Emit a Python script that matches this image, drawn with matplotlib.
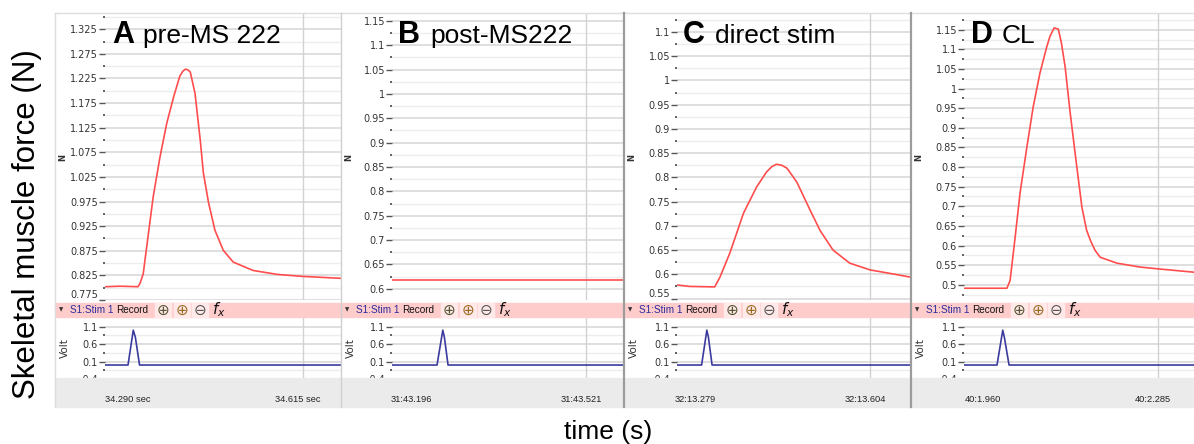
import numpy as np
import matplotlib
matplotlib.use("Agg")
import matplotlib.pyplot as plt
from matplotlib.patches import Rectangle
from matplotlib.lines import Line2D
from matplotlib.ticker import FixedLocator, FuncFormatter

W, H = 1194, 444

letters = ['A', 'B', 'C', 'D']
titles = ['pre-MS 222', 'post-MS222', 'direct stim', 'CL']
time_labels = [('34.290 sec', '34.615 sec'), ('31:43.196', '31:43.521'),
               ('32:13.279', '32:13.604'), ('40:1.960', '40:2.285')]
time_marks = [0.0, 0.325]

# force traces (N), time in s from the first time mark of each panel
t_a = [-0.044, -0.015, 0.019, 0.023, 0.029, 0.039, 0.048, 0.061, 0.074, 0.087, 0.099, 0.105,
       0.110, 0.115, 0.119, 0.128, 0.138, 0.144, 0.154, 0.166, 0.182, 0.201, 0.239,
       0.285, 0.333, 0.407]
f_a = [0.802, 0.803, 0.802, 0.809, 0.828, 0.910, 0.984, 1.065, 1.134, 1.187, 1.230, 1.240,
       1.244, 1.242, 1.238, 1.195, 1.100, 1.033, 0.972, 0.917, 0.876, 0.852, 0.835,
       0.827, 0.823, 0.819]

t_b = [-0.036, 0.407]
f_b = [0.619, 0.619]

t_c = [-0.034, -0.010, 0.038, 0.048, 0.067, 0.093, 0.118, 0.137, 0.147, 0.156, 0.166, 0.176,
       0.195, 0.220, 0.239, 0.264, 0.296, 0.335, 0.367, 0.413]
f_c = [0.578, 0.575, 0.574, 0.594, 0.644, 0.726, 0.780, 0.811, 0.822, 0.827, 0.825, 0.819,
       0.790, 0.733, 0.691, 0.650, 0.623, 0.609, 0.603, 0.594]

t_d = [-0.036, 0.046, 0.052, 0.061, 0.071, 0.084, 0.096, 0.109, 0.122, 0.128, 0.136, 0.144,
       0.150, 0.157, 0.166, 0.176, 0.189, 0.198, 0.205, 0.214, 0.224, 0.256, 0.300, 0.338,
       0.402]
f_d = [0.491, 0.491, 0.511, 0.614, 0.734, 0.851, 0.953, 1.040, 1.107, 1.133, 1.155, 1.152,
       1.116, 1.056, 0.946, 0.836, 0.698, 0.639, 0.614, 0.588, 0.570, 0.555, 0.545, 0.540,
       0.532]

# stimulus pulses (Volt)
stim_t = [[-0.044, 0.000, 0.010, 0.014, 0.022, 0.407],
          [-0.036, 0.050, 0.061, 0.064, 0.071, 0.407],
          [-0.034, 0.013, 0.023, 0.026, 0.033, 0.413],
          [-0.036, 0.027, 0.038, 0.041, 0.050, 0.403]]
stim_v = [0, 0, 1.0, 0.8, 0, 0]

force_t = [t_a, t_b, t_c, t_d]
force_f = [f_a, f_b, f_c, f_d]
ylims = [(0.775, 1.358), (0.577, 1.166), (0.547, 1.139), (0.461, 1.193)]
ytick_lo = [0.775, 0.6, 0.55, 0.5]
ytick_hi = [1.325, 1.15, 1.1, 1.15]
xlims = [(-0.044, 0.407), (-0.036, 0.407), (-0.034, 0.413), (-0.036, 0.403)]
grid_t = 0.335
volt_ticks = [-0.4, 0.1, 0.6, 1.1]

# pixel layout: panel left, axis left, panel right
panels = [(55, 105, 341), (341, 392, 624), (624, 677, 911), (911, 964, 1194)]
letter_x = [112, 398, 683, 971]
title_x = [143, 430, 715, 1002]

fig = plt.figure(figsize=(W / 100, H / 100), dpi=100)


def ax_px(x0, y0, x1, y1):
    return fig.add_axes([x0 / W, 1 - y1 / H, (x1 - x0) / W, (y1 - y0) / H])


def ftxt(x, y, s, **kw):
    return fig.text(x / W, 1 - y / H, s, **kw)


def vline(x, y0, y1, color, lw):
    fig.add_artist(Line2D([x / W, x / W], [1 - y0 / H, 1 - y1 / H], color=color, lw=lw,
                          transform=fig.transFigure, zorder=3))


fmt = FuncFormatter(lambda v, p: f'{v:g}')


def style(ax, major, minor, xlim, ylim):
    ax.set_xlim(*xlim)
    ax.set_ylim(*ylim)
    for s in ax.spines.values():
        s.set_visible(False)
    ax.set_xticks([])
    ax.yaxis.set_major_locator(FixedLocator(major))
    ax.yaxis.set_minor_locator(FixedLocator(minor))
    ax.yaxis.set_major_formatter(fmt)
    ax.tick_params(axis='y', which='major', direction='out', length=4, width=1,
                   color='#555555', pad=1, labelsize=7, labelcolor='#333333')
    ax.tick_params(axis='y', which='minor', direction='out', length=1.3, width=1.3,
                   color='#555555')
    ax.grid(which='major', axis='y', color='#d6d6d6', lw=1.1)
    ax.grid(which='minor', axis='y', color='#ededed', lw=1.0)
    ax.axvline(grid_t, color='#d2d2d2', lw=1)
    ax.set_axisbelow(True)


for i, (pl, axl, pr) in enumerate(panels):
    # force trace
    ax = ax_px(axl, 13, pr, 300)
    major = np.round(np.arange(ytick_lo[i], ytick_hi[i] + 1e-6, 0.05), 3)
    minor = np.round(np.arange(ytick_lo[i] - 0.025, ylims[i][1], 0.05), 4)
    minor = [m for m in minor if ylims[i][0] <= m <= ylims[i][1]]
    style(ax, major, minor, xlims[i], ylims[i])
    ax.plot(force_t[i], force_f[i], color='#ff4d4d', lw=1.2, solid_joinstyle='round')
    for lab in ax.get_yticklabels():
        if abs(lab.get_position()[1] - ylims[i][0]) < 0.004:
            lab.set_va('bottom')
    ftxt(pl + 8, 157, 'N', rotation=90, ha='center', va='center', fontsize=6,
         weight='bold', color='#333333')

    # stimulus trace
    ax2 = ax_px(axl, 318, pr, 380)
    vminor = [-0.15, 0.35, 0.85]
    style(ax2, volt_ticks, vminor, xlims[i], (-0.43, 1.35))
    ax2.plot(stim_t[i], stim_v, color='#3b3b9e', lw=1.2)
    ftxt(pl + 10, 348, 'Volt', rotation=90, ha='center', va='center', fontsize=7.5,
         color='#333333')

    # titles
    ftxt(letter_x[i], 43, letters[i], fontsize=22, weight='bold', family='Liberation Sans',
         va='baseline', ha='left')
    ftxt(title_x[i], 43, titles[i], fontsize=19, family='Liberation Sans',
         va='baseline', ha='left')

    # toolbar contents
    ftxt(pl + 6, 310, '\u25bc', fontsize=4, color='#333333', ha='center', va='center')
    ftxt(pl + 15, 310, 'S1:Stim 1', fontsize=7.2, color='#2a2a9a', family='Liberation Sans',
         ha='left', va='center', zorder=4)
    ftxt(pl + 61, 310, 'Record', fontsize=7.2, color='#111111', family='Liberation Sans',
         ha='left', va='center', zorder=4)
    for cx, sym, col in [(108, '\u2295', '#555533'), (127, '\u2295', '#9a6a20'),
                         (145, '\u2296', '#555555')]:
        fig.add_artist(Rectangle(((pl + cx - 8) / W, 1 - 317 / H), 16 / W, 14 / H,
                                 transform=fig.transFigure, color='#ffe9e9', zorder=2))
        ftxt(pl + cx, 310, sym, fontsize=11, color=col, ha='center', va='center', zorder=4)
    ftxt(pl + 164, 310, '$f_x$', fontsize=11, color='#111111', ha='center', va='center',
         zorder=4)

# pink toolbar and gray time bar, drawn over the axes
fig.add_artist(Rectangle((55 / W, 1 - 317 / H), (W - 55) / W, 14 / H,
                         transform=fig.transFigure, color='#ffcccc', zorder=1))
fig.add_artist(Rectangle((55 / W, 1 - 407 / H), (W - 55) / W, 29 / H,
                         transform=fig.transFigure, color='#ebebeb', zorder=1))

for i, (pl, axl, pr) in enumerate(panels):
    scale = (pr - axl) / (xlims[i][1] - xlims[i][0])
    for tm, lab in zip(time_marks, time_labels[i]):
        x = axl + (tm - xlims[i][0]) * scale
        ftxt(x, 399, lab, fontsize=6.7, family='Liberation Sans', color='#222222',
             ha='center', va='center', zorder=4)

# panel frames
fig.add_artist(Line2D([55 / W, 1], [1 - 13 / H, 1 - 13 / H], color='#dddddd', lw=1,
                      transform=fig.transFigure, zorder=3))
vline(55, 13, 407, '#dddddd', 1)
vline(341, 13, 407, '#cfcfcf', 1)
vline(624, 13, 407, '#9c9c9c', 1.6)
vline(911, 13, 407, '#9c9c9c', 1.6)

ftxt(27, 224, 'Skeletal muscle force (N)', rotation=90, ha='center', va='center',
     fontsize=22.5, family='Liberation Sans')
ftxt(608, 432, 'time (s)', ha='center', va='center', fontsize=19, family='Liberation Sans')

fig.savefig('out.png', dpi=100)
